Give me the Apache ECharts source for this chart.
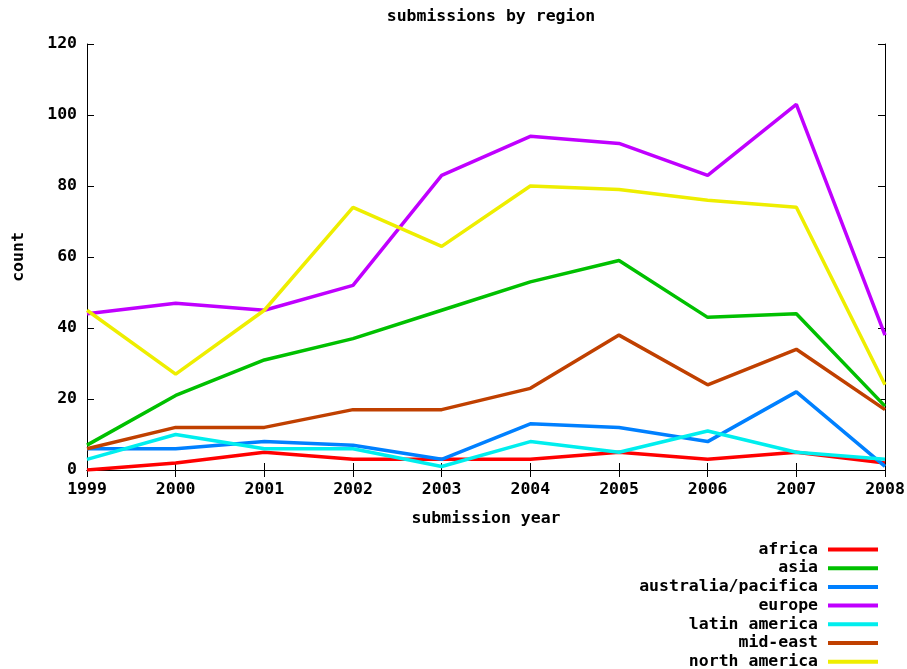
<!DOCTYPE html>
<html><head><meta charset="utf-8">
<script src="https://cdn.jsdelivr.net/npm/echarts@6/dist/echarts.min.js"></script>
<style>html,body{margin:0;padding:0;background:#fff}#c{width:907px;height:669px}</style>
</head><body><div id="c"></div>
<script>
const years = ['1999','2000','2001','2002','2003','2004','2005','2006','2007','2008'];
const africa = [0, 2, 5, 3, 3, 3, 5, 3, 5, 2];
const asia = [7, 21, 31, 37, 45, 53, 59, 43, 44, 18];
const australiaPacifica = [6, 6, 8, 7, 3, 13, 12, 8, 22, 1];
const europe = [44, 47, 45, 52, 83, 94, 92, 83, 103, 38];
const latinAmerica = [3, 10, 6, 6, 1, 8, 5, 11, 5, 3];
const midEast = [6, 12, 12, 17, 17, 23, 38, 24, 34, 17];
const northAmerica = [45, 27, 45, 74, 63, 80, 79, 76, 74, 24];
const yTicks = [0, 20, 40, 60, 80, 100, 120];

const seriesDefs = [
  ['africa', africa, '#ff0000'],
  ['asia', asia, '#00c000'],
  ['australia/pacifica', australiaPacifica, '#0080ff'],
  ['europe', europe, '#c000ff'],
  ['latin america', latinAmerica, '#00eeee'],
  ['mid-east', midEast, '#c04000'],
  ['north america', northAmerica, '#eeee00']
];
const font = '"DejaVu Sans Mono", monospace';
const FS = 16.5;
const lbl = {fontFamily: font, fontWeight: 'bold', fontSize: FS, color: '#000'};
const chart = echarts.init(document.getElementById('c'));
chart.setOption({
  animation: false,
  backgroundColor: '#fff',
  title: {text: 'submissions by region', left: 486, textAlign: 'center', top: 3,
    textStyle: {fontFamily: font, fontWeight: 'bold', fontSize: FS, color: '#000'}},
  grid: {left: 87, right: 22, top: 44, bottom: 199, containLabel: false, outerBoundsMode: 'none'},
  legend: {
    orient: 'vertical', right: 29, top: 541, height: 140, align: 'right', icon: 'rect',
    itemWidth: 50, itemHeight: 4, itemGap: 1.7, padding: 0,
    textStyle: {fontFamily: font, fontWeight: 'bold', fontSize: FS, color: '#000', padding: [0, 5, 0, 0]},
    data: seriesDefs.map(d => d[0])
  },
  xAxis: [{
    type: 'category', data: years, boundaryGap: false,
    name: 'submission year', nameLocation: 'middle', nameGap: 40,
    nameTextStyle: lbl,
    axisLine: {lineStyle: {color: '#000', width: 1}},
    axisTick: {inside: true, length: 7, lineStyle: {color: '#000'}, alignWithLabel: true},
    axisLabel: Object.assign({margin: 11}, lbl),
    splitLine: {show: false}
  }, {
    type: 'category', data: years, boundaryGap: false, position: 'top',
    axisLine: {lineStyle: {color: '#000', width: 1}},
    axisTick: {inside: true, length: 7, lineStyle: {color: '#000'}},
    axisLabel: {show: false}, splitLine: {show: false}
  }],
  yAxis: [{
    type: 'value', min: 0, max: 120, interval: 20,
    name: 'count', nameLocation: 'middle', nameGap: 60, nameRotate: 90,
    nameTextStyle: lbl,
    axisLine: {show: true, lineStyle: {color: '#000', width: 1}},
    axisTick: {show: true, inside: true, length: 7, lineStyle: {color: '#000'}},
    axisLabel: Object.assign({margin: 10}, lbl),
    splitLine: {show: false}
  }, {
    type: 'value', min: 0, max: 120, interval: 20, position: 'right',
    axisLine: {show: true, lineStyle: {color: '#000', width: 1}},
    axisTick: {show: true, inside: true, length: 7, lineStyle: {color: '#000'}},
    axisLabel: {show: false}, splitLine: {show: false}
  }],
  series: seriesDefs.map(d => ({
    name: d[0], type: 'line', data: d[1], xAxisIndex: 0, yAxisIndex: 0,
    symbol: 'none', color: d[2], lineStyle: {width: 3.5, color: d[2]}
  }))
});
</script></body></html>
